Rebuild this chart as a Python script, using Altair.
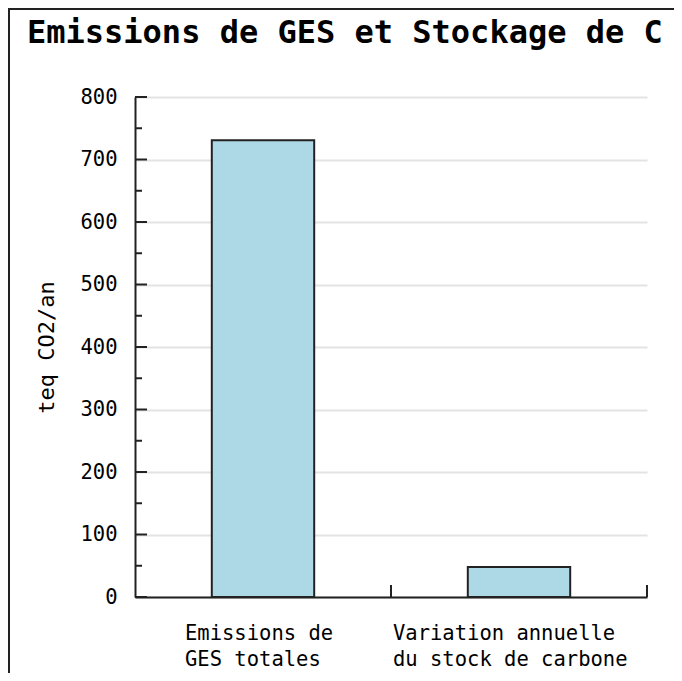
import altair as alt
import pandas as pd

title_text = "Emissions de GES et Stockage de C"
y_title = "teq CO2/an"
categories = ["Emissions de\nGES totales", "Variation annuelle\ndu stock de carbone"]
values = [731, 48]
major_ticks = [0, 100, 200, 300, 400, 500, 600, 700, 800]
minor_ticks = [50, 150, 250, 350, 450, 550, 650, 750]

df = pd.DataFrame({"cat": categories, "val": values})
df_major = pd.DataFrame({"v": major_ticks})
df_minor = pd.DataFrame({"v": minor_ticks})
df_one = pd.DataFrame({"t": [title_text]})

MONO = "DejaVu Sans Mono"
INK = "#222222"

yscale = alt.Scale(domain=[0, 800], nice=False, zero=True)
xscale = alt.Scale(domain=categories, paddingInner=0, paddingOuter=0)

xaxis = alt.Axis(
    labelAngle=0, ticks=False, tickSize=0, grid=False,
    domainColor=INK, domainWidth=2,
    labelFont=MONO, labelFontSize=20.5, labelColor="black",
    labelAlign="left", labelBaseline="top", labelPadding=26,
    labelLineHeight=26, labelLimit=600, labelOverlap=False, labelBound=False,
    labelExpr="split(datum.label, '\\n')",
    labelOffset={"condition": {"test": "datum.index < 0.5", "value": -78}, "value": -126},
)
yaxis = alt.Axis(
    values=major_ticks, ticks=False, tickSize=0, grid=True,
    gridColor="#e3e3e3", gridWidth=2,
    domainColor=INK, domainWidth=2,
    labelFont=MONO, labelFontSize=20.5, labelColor="black", labelPadding=18,
    titleFont=MONO, titleFontSize=22, titleFontWeight="normal", titleColor="black",
    titleAngle=-90, titleX=-89, titleY=250, titleAlign="center", titleBaseline="middle",
)

bars = alt.Chart(df).mark_bar(
    width=alt.RelativeBandSize(0.4), color="#add8e6", stroke=INK, strokeWidth=2
).encode(
    x=alt.X("cat:N", scale=xscale, sort=categories, title=None, axis=xaxis),
    y=alt.Y("val:Q", scale=yscale, title=y_title, axis=yaxis),
)

ticks_major = alt.Chart(df_major).mark_rule(color=INK, strokeWidth=2).encode(
    y=alt.Y("v:Q", scale=yscale, title=y_title, axis=yaxis), x=alt.value(0), x2=alt.value(12)
)
ticks_minor = alt.Chart(df_minor).mark_rule(color=INK, strokeWidth=2).encode(
    y=alt.Y("v:Q", scale=yscale, title=y_title, axis=yaxis), x=alt.value(0), x2=alt.value(7)
)
ticks_x = alt.Chart(df).mark_rule(color=INK, strokeWidth=2).encode(
    x=alt.X("cat:N", scale=xscale, sort=categories, bandPosition=1, title=None, axis=xaxis),
    y=alt.value(500), y2=alt.value(488),
)
frame_left = alt.Chart(df_one).mark_rule(color=INK, strokeWidth=2).encode(
    x=alt.value(-126), y=alt.value(-88), y2=alt.value(600)
)
frame_top = alt.Chart(df_one).mark_rule(color=INK, strokeWidth=2).encode(
    x=alt.value(-127), x2=alt.value(560), y=alt.value(-88)
)
title_mark = alt.Chart(df_one).mark_text(
    font=MONO, fontSize=32, fontWeight="bold", color="black",
    align="left", baseline="alphabetic",
).encode(text="t:N", x=alt.value(-108), y=alt.value(-54))

chart = alt.layer(
    bars, ticks_major, ticks_minor, ticks_x, frame_left, frame_top, title_mark
).properties(
    width=512, height=500,
    autosize=alt.AutoSizeParams(type="none"),
    padding={"left": 127, "top": 89, "right": 27, "bottom": 76},
    background="white",
).configure_view(stroke=None)

chart.save("out.html", embed_options={"renderer": "svg", "actions": False})
